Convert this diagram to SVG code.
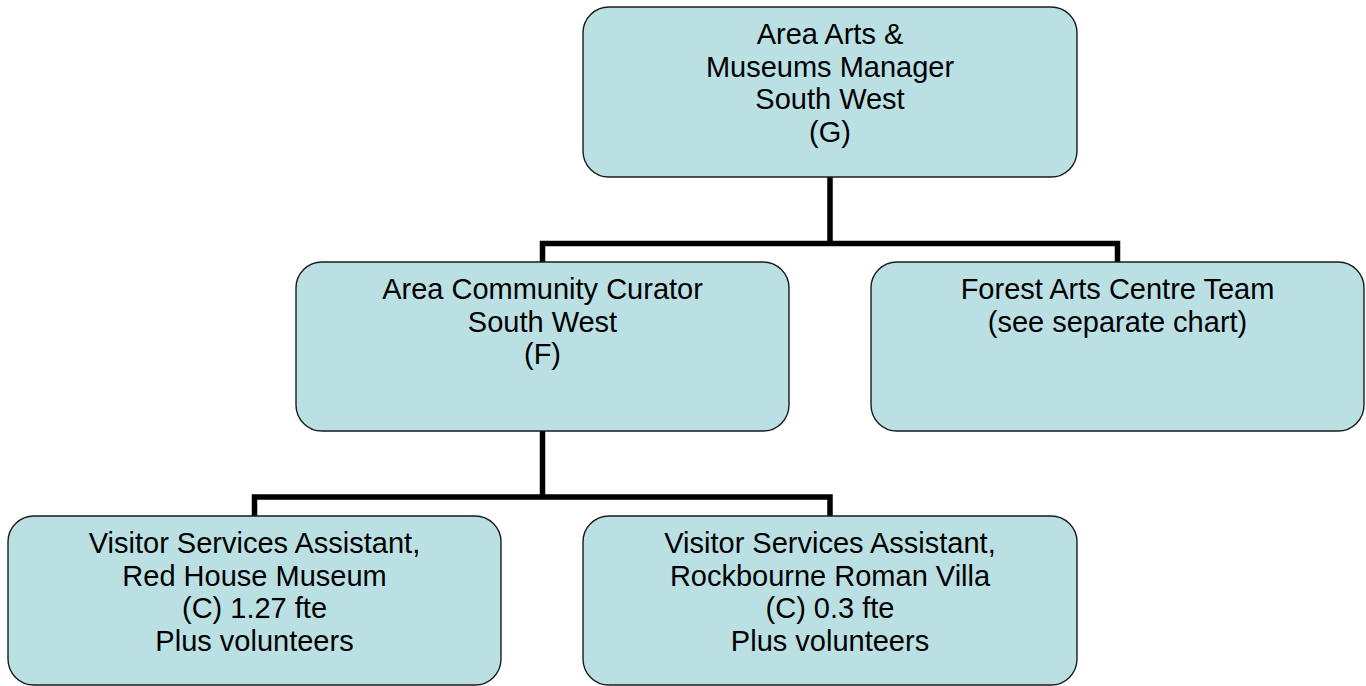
<svg xmlns="http://www.w3.org/2000/svg" width="1366" height="686" viewBox="0 0 1366 686">
<style>
.node{fill:#BBE0E3;stroke:#1a1a1a;stroke-width:1.4}
.lbl{font-family:"Liberation Sans",Arial,sans-serif;font-size:29px;fill:#000;text-anchor:middle}
.conn{fill:none;stroke:#000;stroke-width:5.5;stroke-linejoin:miter;stroke-linecap:butt}
</style>
<rect width="1366" height="686" fill="#fff"/>
<g id="connectors">
<path class="conn" d="M830,177 V243.5"/>
<path class="conn" d="M542.5,262 V243.5 H1117.5 V262"/>
<path class="conn" d="M542.5,431 V497"/>
<path class="conn" d="M254.5,516 V497 H830 V516"/>
</g>
<g id="node-manager">
<rect class="node" x="583" y="7" width="494" height="170" rx="26" ry="26"/>
<text class="lbl" x="830" y="44">Area Arts &amp;</text>
<text class="lbl" x="830" y="76.5">Museums Manager</text>
<text class="lbl" x="830" y="109">South West</text>
<text class="lbl" x="830" y="141.5">(G)</text>
</g>
<g id="node-curator">
<rect class="node" x="296" y="262" width="493" height="169" rx="26" ry="26"/>
<text class="lbl" x="542.5" y="299">Area Community Curator</text>
<text class="lbl" x="542.5" y="331.5">South West</text>
<text class="lbl" x="542.5" y="364">(F)</text>
</g>
<g id="node-forest">
<rect class="node" x="871" y="262" width="493" height="169" rx="26" ry="26"/>
<text class="lbl" x="1117.5" y="299">Forest Arts Centre Team</text>
<text class="lbl" x="1117.5" y="331.5">(see separate chart)</text>
</g>
<g id="node-redhouse">
<rect class="node" x="8" y="516" width="493" height="169" rx="26" ry="26"/>
<text class="lbl" x="254.5" y="553">Visitor Services Assistant,</text>
<text class="lbl" x="254.5" y="585.5">Red House Museum</text>
<text class="lbl" x="254.5" y="618">(C) 1.27 fte</text>
<text class="lbl" x="254.5" y="650.5">Plus volunteers</text>
</g>
<g id="node-rockbourne">
<rect class="node" x="583" y="516" width="494" height="169" rx="26" ry="26"/>
<text class="lbl" x="830" y="553">Visitor Services Assistant,</text>
<text class="lbl" x="830" y="585.5">Rockbourne Roman Villa</text>
<text class="lbl" x="830" y="618">(C) 0.3 fte</text>
<text class="lbl" x="830" y="650.5">Plus volunteers</text>
</g>
</svg>
